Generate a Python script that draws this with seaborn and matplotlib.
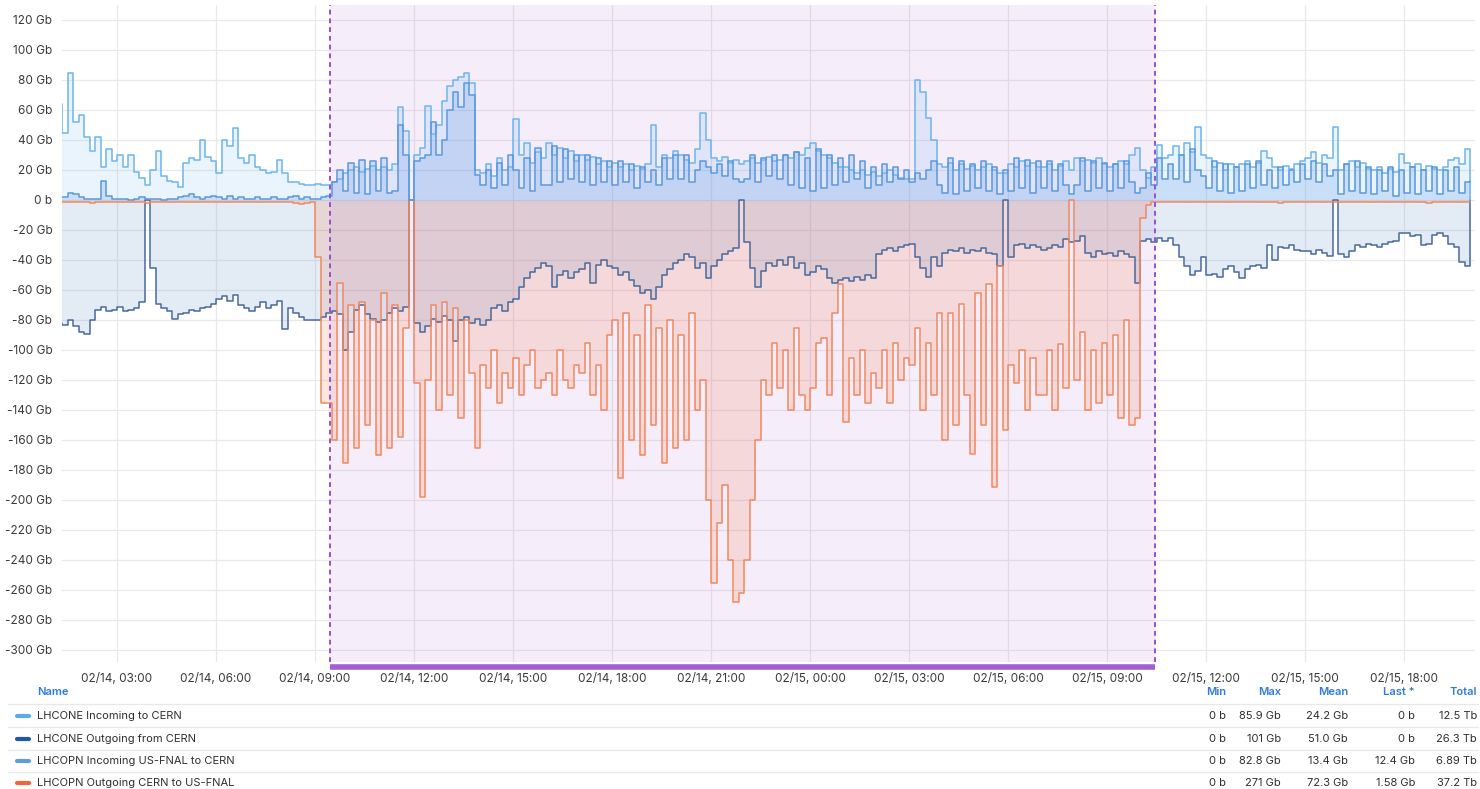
import numpy as np
import pandas as pd
import matplotlib
matplotlib.use("Agg")
import matplotlib.pyplot as plt
import matplotlib.dates as mdates
from matplotlib.lines import Line2D
import seaborn as sns

# ---------------- data: 10 min samples, one row per hour, starting 02/14 01:00 ----------------
lhcone_in_rows = [
    [64, 64, 45, 85, 52, 57], [42, 33, 42, 22, 34, 26], [30, 22, 30, 19, 15, 10],
    [20, 33, 16, 13, 12, 9], [25, 28, 27, 40, 29, 26], [18, 40, 36, 48, 28, 25],
    [30, 22, 20, 18, 19, 27], [18, 12, 12, 11, 10, 10], [11, 10, 10, 12, 14, 18],
    [20, 22, 19, 21, 23, 20], [22, 20, 24, 62, 46, 0], [30, 35, 63, 44, 50, 66],
    [76, 80, 82, 85, 78, 20], [18, 24, 16, 28, 20, 22], [54, 30, 38, 25, 32, 28],
    [38, 30, 35, 28, 33, 26], [30, 27, 29, 24, 26, 22], [25, 22, 24, 20, 23, 21],
    [24, 50, 22, 30, 28, 33], [30, 27, 25, 34, 58, 40], [28, 26, 29, 25, 27, 24],
    [26, 28, 25, 27, 29, 26], [27, 30, 28, 32, 30, 35], [38, 33, 30, 28, 25, 22],
    [22, 20, 18, 20, 17, 19], [16, 18, 20, 17, 15, 14], [14, 80, 72, 55, 40, 24],
    [22, 25, 20, 24, 21, 23], [20, 22, 24, 20, 18, 18], [24, 22, 26, 23, 25, 22],
    [22, 24, 20, 23, 26, 20], [28, 26, 27, 25, 28, 24], [22, 24, 26, 24, 30, 35],
    [20, 15, 22, 37, 28, 30], [36, 30, 38, 32, 49, 30], [28, 22, 25, 20, 24, 22],
    [24, 26, 22, 25, 33, 28], [22, 20, 23, 21, 24, 26], [28, 32, 25, 30, 28, 49],
    [20, 24, 26, 22, 25, 21], [20, 22, 18, 21, 19, 31], [25, 22, 24, 20, 23, 21],
    [20, 22, 27, 28, 24, 34], [0],
]

lhcone_out_rows = [
    [-82, -82, -83, -80, -84, -88], [-89, -80, -73, -71, -74, -73], [-71, -74, -73, -72, -68, 0],
    [-45, -69, -72, -74, -79, -76], [-75, -73, -74, -72, -71, -69], [-66, -64, -67, -63, -70, -72],
    [-74, -71, -68, -72, -70, -67], [-86, -72, -75, -78, -80, -80], [-80, -78, -75, -74, -76, -100],
    [-88, -73, -70, -76, -79, -81], [-80, -75, -72, -74, -71, 0], [-82, -88, -84, -79, -81, -77],
    [-80, -94, -80, -78, -82, -79], [-83, -80, -72, -70, -74, -68], [-66, -58, -52, -48, -45, -42],
    [-44, -58, -50, -47, -52, -48], [-46, -42, -55, -43, -40, -44], [-45, -50, -48, -53, -57, -62],
    [-60, -66, -58, -50, -46, -42], [-40, -36, -38, -45, -42, -52], [-44, -40, -36, -34, -32, 0],
    [-28, -45, -58, -47, -42, -44], [-40, -43, -38, -45, -42, -50], [-48, -44, -46, -52, -55, -53],
    [-52, -54, -51, -53, -50, -52], [-36, -33, -32, -34, -31, -30], [-29, -38, -45, -51, -38, -44],
    [-35, -33, -34, -32, -35, -33], [-34, -32, -35, -36, -44, 0], [-38, -30, -29, -32, -30, -31],
    [-33, -32, -30, -31, -26, -28], [-27, -24, -35, -38, -34, -36], [-35, -37, -34, -36, -38, -55],
    [-27, -26, -28, -25, -27, -25], [-30, -38, -44, -50, -47, -38], [-50, -49, -51, -46, -44, -48],
    [-52, -46, -44, -43, -45, -30], [-40, -31, -32, -30, -33, -34], [-34, -36, -33, -35, -37, 0],
    [-36, -38, -34, -30, -31, -29], [-30, -31, -29, -28, -27, -22], [-22, -24, -23, -30, -29, -23],
    [-22, -24, -29, -31, -41, -44], [0],
]

lhcopn_in_rows = [
    [3, 2, 2, 5, 4, 2], [1, 1, 1, 13, 3, 1], [1, 1, 0, 1, 2, 1],
    [1, 1, 0, 1, 1, 2], [3, 4, 2, 1, 2, 3], [2, 1, 3, 1, 2, 1],
    [1, 2, 1, 1, 2, 1], [1, 2, 3, 1, 2, 1], [1, 2, 3, 12, 20, 6],
    [25, 5, 27, 4, 26, 6], [28, 5, 6, 50, 30, 0], [26, 28, 30, 52, 30, 40],
    [60, 72, 62, 78, 70, 17], [10, 20, 8, 25, 10, 30], [20, 8, 28, 6, 35, 10],
    [10, 36, 12, 34, 14, 30], [12, 30, 10, 28, 12, 26], [10, 26, 12, 24, 8, 22],
    [12, 20, 10, 28, 14, 30], [14, 30, 12, 20, 26, 22], [18, 24, 16, 26, 14, 12],
    [14, 30, 12, 28, 16, 30], [14, 30, 10, 32, 8, 28], [6, 34, 8, 30, 10, 28],
    [12, 30, 14, 26, 8, 22], [10, 24, 12, 22, 14, 20], [12, 18, 14, 20, 26, 10],
    [5, 28, 4, 26, 6, 24], [8, 26, 6, 22, 4, 20], [6, 28, 8, 27, 5, 26],
    [8, 26, 6, 24, 10, 4], [10, 28, 6, 26, 8, 25], [6, 24, 8, 26, 12, 5],
    [8, 18, 10, 28, 14, 24], [14, 30, 12, 34, 20, 16], [8, 26, 6, 24, 5, 22],
    [6, 24, 8, 26, 10, 20], [8, 22, 10, 20, 12, 24], [14, 26, 12, 24, 16, 20],
    [4, 24, 6, 26, 5, 22], [4, 20, 6, 22, 3, 20], [5, 22, 4, 20, 6, 22],
    [4, 20, 6, 22, 5, 12], [12.4],
]

lhcopn_out_rows = [
    [-1, -1, -1, -1.5, -1, -1], [-1, -2, -1.5, -1, -1, -1], [-1, -1, -1.5, -1, -1, -2],
    [-1, -1, -1, -1.5, -1, -1], [-1, -1.5, -1, -1, -1, -1], [-1, -1, -1.5, -1, -1, -1],
    [-1, -1.5, -1, -1, -1, -1], [-1, -1, -2, -2.5, -2, -1], [-38, -135, -135, -160, -55, -175],
    [-70, -165, -68, -150, -80, -170], [-62, -165, -70, -158, -85, 0], [-122, -198, -120, -70, -140, -68],
    [-130, -72, -145, -80, -115, -165], [-110, -125, -100, -135, -115, -125], [-105, -130, -110, -100, -125, -120],
    [-115, -130, -100, -120, -125, -110], [-115, -95, -130, -110, -140, -90], [-80, -185, -75, -160, -90, -170],
    [-70, -150, -85, -175, -80, -165], [-90, -160, -75, -140, -120, -200], [-255, -215, -190, -240, -268, -262],
    [-240, -200, -160, -120, -130, -95], [-125, -100, -140, -85, -130, -140], [-125, -95, -92, -130, -75, -56],
    [-148, -105, -130, -100, -135, -115], [-125, -100, -135, -95, -120, -105], [-110, -85, -140, -95, -130, -75],
    [-160, -75, -150, -69, -130, -169], [-62, -150, -56, -191, -44, -153], [-110, -122, -100, -140, -105, -130],
    [-130, -100, -140, -96, -125, 0], [-120, -88, -140, -100, -135, -95], [-130, -90, -145, -80, -150, -145],
    [-12, -3, -1, -1, -1, -1], [-1, -1, -1.5, -1, -1, -1], [-1, -1, -1, -1.5, -1, -1],
    [-1, -1, -1, -1, -1.5, -1], [-1, -2, -1.5, -1, -1, -1], [-1, -1, -1, -1.5, -1, -1],
    [-1, -1, -1, -1, -1, -1.5], [-1, -1, -1.5, -1, -1, -1], [-1, -1, -1, -1.5, -2, -1],
    [-1, -1, -1, -1, -1.5, -1], [-1.58],
]

series_names = ["LHCONE Incoming to CERN", "LHCONE Outgoing from CERN",
                "LHCOPN Incoming US-FNAL to CERN", "LHCOPN Outgoing CERN to US-FNAL"]
stat_headers = ["Min", "Max", "Mean", "Last *", "Total"]
stat_min = ["0 b", "0 b", "0 b", "0 b"]
stat_max = ["85.9 Gb", "101 Gb", "82.8 Gb", "271 Gb"]
stat_mean = ["24.2 Gb", "51.0 Gb", "13.4 Gb", "72.3 Gb"]
stat_last = ["0 b", "0 b", "12.4 Gb", "1.58 Gb"]
stat_total = ["12.5 Tb", "26.3 Tb", "6.89 Tb", "37.2 Tb"]

sel_start = pd.Timestamp("2025-02-14 09:27")
sel_end = pd.Timestamp("2025-02-15 10:27")

# ---------------- build frame ----------------
n = sum(len(r) for r in lhcone_in_rows)
times = pd.date_range("2025-02-14 01:00", periods=n, freq="10min")
df = pd.DataFrame({
    "time": times,
    "lhcone_in": np.concatenate(lhcone_in_rows),
    "lhcone_out": np.concatenate(lhcone_out_rows),
    "lhcopn_in": np.concatenate(lhcopn_in_rows),
    "lhcopn_out": np.concatenate(lhcopn_out_rows),
})

line_cols = {"lhcone_in": "#6cb5ee", "lhcone_out": "#4a6a9c",
             "lhcopn_in": "#5a98de", "lhcopn_out": "#f2895f"}
fill_cols = {"lhcone_in": ("#5aaef0", 0.13), "lhcone_out": ("#5b8fc9", 0.17),
             "lhcopn_in": ("#4d8fe0", 0.20), "lhcopn_out": ("#f47a4c", 0.18)}
legend_cols = ["#5aaaf0", "#1f58a8", "#5a9ee0", "#f2643a"]

sns.set_theme(style="white")
plt.rcParams["font.family"] = ["Inter", "DejaVu Sans"]

fig = plt.figure(figsize=(14.8, 7.89), dpi=100)
W, H = 1480, 789
ax = fig.add_axes([62 / W, 1 - 662 / H, (1475 - 62) / W, (662 - 5) / H])

# selection overlay
ax.axvspan(sel_start, sel_end, color="#b36ddc", alpha=0.12, zorder=0.6, lw=0)

for col in ["lhcone_out", "lhcopn_out", "lhcone_in", "lhcopn_in"]:
    fc, fa = fill_cols[col]
    ax.fill_between(df["time"], df[col], 0, step="post", color=fc, alpha=fa, lw=0, zorder=1)
    sns.lineplot(data=df, x="time", y=col, ax=ax, drawstyle="steps-post",
                 color=line_cols[col], lw=1.1, zorder=3)

# selection edges
for t in [sel_start, sel_end]:
    ax.axvline(t, color="#9a4fd0", lw=1.4, ls=(0, (2.5, 2)), zorder=5)
ax.plot([sel_start, sel_end], [-0.007, -0.007], transform=ax.get_xaxis_transform(),
        color="#a35ed4", lw=4, solid_capstyle="butt", clip_on=False, zorder=6)

ax.set_xlim(pd.Timestamp("2025-02-14 01:20"), pd.Timestamp("2025-02-15 20:09"))
ax.set_ylim(-308, 130)
ax.set_yticks(np.arange(-300, 121, 20))
ax.set_yticklabels(["0 b" if v == 0 else f"{v} Gb" for v in np.arange(-300, 121, 20)])
ax.xaxis.set_major_locator(mdates.HourLocator(byhour=range(0, 24, 3)))
ax.xaxis.set_major_formatter(mdates.DateFormatter("%m/%d, %H:%M"))
ax.set_xlabel("")
ax.set_ylabel("")
ax.tick_params(axis="both", length=0, labelsize=8.5, labelcolor="#3a3a3a")
ax.tick_params(axis="x", pad=8)
ax.tick_params(axis="y", pad=7)
ax.grid(True, color="#e9e9e9", lw=0.9)
ax.set_axisbelow(True)
for s in ax.spines.values():
    s.set_visible(False)

# ---------------- legend table ----------------
def fx(px):
    return px / W

def fy(py):
    return 1 - py / H

hdr_col = "#2f7bd9"
fig.text(fx(37), fy(692), "Name", color=hdr_col, fontsize=8, fontweight="semibold", va="center")
col_right = [1226, 1281, 1348, 1415, 1477]
for x, h in zip(col_right, stat_headers):
    fig.text(fx(x), fy(692), h, color=hdr_col, fontsize=8, fontweight="semibold",
             va="center", ha="right")

row_y = [716, 739, 761, 783]
for yy in [704, 727, 750, 772]:
    fig.add_artist(Line2D([fx(8), fx(1478)], [fy(yy), fy(yy)], color="#e8e8e8", lw=0.9))
for i, yy in enumerate(row_y):
    fig.add_artist(Line2D([fx(17), fx(29)], [fy(yy), fy(yy)], color=legend_cols[i], lw=3,
                          solid_capstyle="round"))
    fig.text(fx(37), fy(yy), series_names[i], color="#2e2e2e", fontsize=8, va="center")
    vals = [stat_min[i], stat_max[i], stat_mean[i], stat_last[i], stat_total[i]]
    for x, v in zip(col_right, vals):
        fig.text(fx(x), fy(yy), v, color="#2e2e2e", fontsize=8, va="center", ha="right")

fig.savefig("out.png", dpi=100)
